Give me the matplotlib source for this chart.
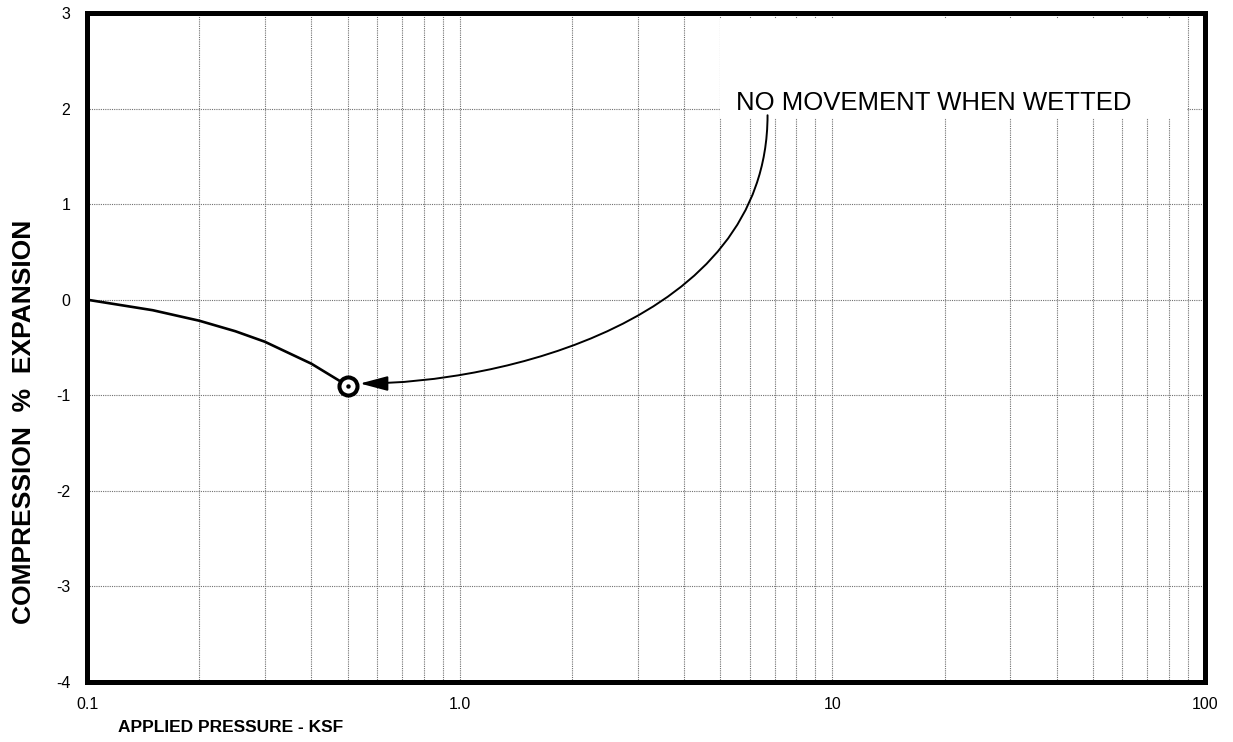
import matplotlib
matplotlib.use("Agg")
import matplotlib.pyplot as plt
from matplotlib.patches import Rectangle, FancyArrowPatch
from matplotlib.path import Path
from matplotlib.ticker import FixedLocator, NullFormatter, FixedFormatter

plt.rcParams['font.family'] = ['Liberation Sans', 'DejaVu Sans']

# data
pressure = [0.1, 0.15, 0.2, 0.25, 0.3, 0.4, 0.5]
strain = [0.0, -0.11, -0.22, -0.33, -0.44, -0.67, -0.9]
wetted_point = (0.5, -0.9)
annotation_text = "NO MOVEMENT WHEN WETTED"
annotation_pos = (5.5, 1.98)
# arrow (cubic curve) in data coordinates: start, control1, control2, tip
arrow_x = [6.7, 6.7, 1.25, 0.54]
arrow_y = [1.93, -0.25, -0.877, -0.877]
xticks = [0.1, 1.0, 10, 100]
xtick_labels = ["0.1", "1.0", "10", "100"]
yticks = [-4, -3, -2, -1, 0, 1, 2, 3]

fig = plt.figure(figsize=(12.33, 7.42), dpi=100)
ax = fig.add_axes([0.0706, 0.0809, 0.9067, 0.9016])
ax.set_xscale('log')
ax.set_xlim(0.1, 100)
ax.set_ylim(-4, 3)

ax.xaxis.set_major_locator(FixedLocator(xticks))
ax.xaxis.set_major_formatter(FixedFormatter(xtick_labels))
minor = [m * d for d in (0.1, 1, 10) for m in range(2, 10)]
ax.xaxis.set_minor_locator(FixedLocator(minor))
ax.xaxis.set_minor_formatter(NullFormatter())
ax.set_yticks(yticks)
ax.set_yticklabels([str(v) for v in yticks])

grid_kw = dict(color='#707070', linestyle=(0, (1, 1)), linewidth=0.8)
ax.grid(True, which='major', axis='both', **grid_kw)
ax.grid(True, which='minor', axis='x', **grid_kw)
ax.set_axisbelow(True)

ax.tick_params(axis='both', which='both', length=0, labelsize=11.5)
ax.tick_params(axis='x', pad=11)
ax.tick_params(axis='y', pad=12)

for s in ax.spines.values():
    s.set_linewidth(3.6)
    s.set_color('black')

# white box behind annotation text
ax.add_patch(Rectangle((0.566, 0.843), 0.418, 0.148, transform=ax.transAxes,
                       facecolor='white', edgecolor='none', zorder=1))

ax.plot(pressure, strain, color='black', linewidth=1.9, zorder=3,
        solid_capstyle='round', solid_joinstyle='round')
ax.plot([wetted_point[0]], [wetted_point[1]], marker='o', markersize=13,
        markerfacecolor='white', markeredgecolor='black', markeredgewidth=2.9,
        zorder=4)
ax.plot([wetted_point[0]], [wetted_point[1]], marker='o', markersize=2.2,
        color='black', zorder=5)

ax.text(annotation_pos[0], annotation_pos[1], annotation_text, fontsize=18.5,
        ha='left', va='baseline', zorder=3)

verts = list(zip(arrow_x, arrow_y))
path = Path(verts, [Path.MOVETO, Path.CURVE4, Path.CURVE4, Path.CURVE4])
arrow = FancyArrowPatch(path=path, arrowstyle='-|>,head_length=1.7,head_width=0.45',
                        mutation_scale=10, color='black', linewidth=1.4, zorder=3)
ax.add_patch(arrow)

ax.set_xlabel("APPLIED PRESSURE - KSF", fontsize=12.5, fontweight='bold', ha='left')
ax.xaxis.set_label_coords((118 - 87) / 1118, -0.057)
ax.set_ylabel("COMPRESSION  %  EXPANSION", fontsize=19, fontweight='bold')
ax.yaxis.set_label_coords(-0.046, 0.389)

fig.savefig("out.png", dpi=100)
